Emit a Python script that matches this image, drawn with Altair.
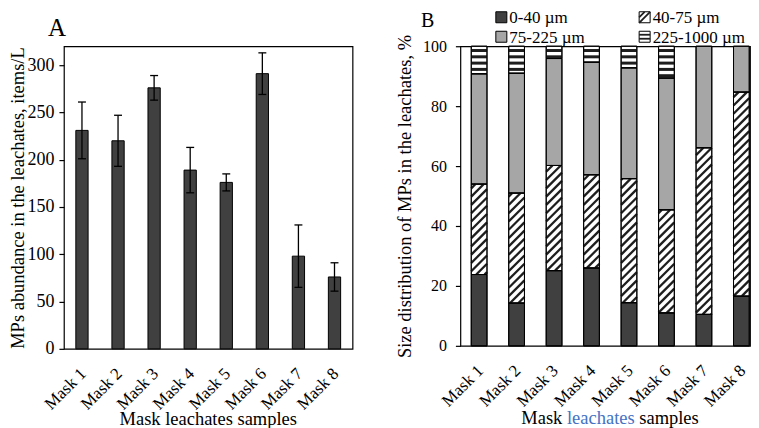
import altair as alt
import pandas as pd
import math

# ---------------- data ----------------
mask_no = [1, 2, 3, 4, 5, 6, 7, 8]
abundance = [231, 220, 276, 189, 176, 291, 98, 76]
abundance_err = [30, 27, 13, 24, 9, 22, 33, 15]

size_classes = ["0-40 µm", "40-75 µm", "75-225 µm", "225-1000 µm"]
pct_0_40 = [23.8, 14.3, 25.1, 26.0, 14.4, 11.0, 10.5, 16.6]
pct_40_75 = [30.2, 36.7, 35.1, 31.1, 41.4, 34.4, 55.6, 68.1]
pct_75_225 = [36.8, 40.0, 35.7, 37.6, 37.0, 44.0, 33.9, 15.3]
pct_225_1000 = [9.2, 9.0, 4.1, 5.3, 7.2, 10.6, 0.0, 0.0]

y_ticks_a = [0, 50, 100, 150, 200, 250, 300]
y_ticks_b = [0, 20, 40, 60, 80, 100]

# ---------------- style ----------------
FONT = "Liberation Serif"
DARK = "#404040"
GRAY = "#a6a6a6"
INK = "#1e1e1e"
BLUE = "#4472C4"

W1, H1 = 289, 303
W2, H2 = 290, 300
XD1 = [0.5, 8.5]
XD2 = [0.5, 8.23]
YD1 = [0, 320]
YD2 = [0, 100]
HW1 = 0.17
HW2 = 0.21

X_AXIS = alt.Axis(values=mask_no, labelExpr="'Mask ' + datum.value",
                  labelAngle=315, labelAlign="right", labelBaseline="middle",
                  labelFontSize=17, labelPadding=22, labelOffset=1, labelOverlap=False,
                  ticks=False, domain=False, grid=False, title=None)
Y_AXIS_A = alt.Axis(values=y_ticks_a, title="MPs abundance in the leachates, items/L",
                    labelFontSize=18, tickSize=5, labelPadding=5, titlePadding=-1,
                    domain=False, grid=False)
Y_AXIS_B = alt.Axis(values=y_ticks_b, title="Size distribution of MPs in the leachates, %",
                    labelFontSize=16, tickSize=5, labelPadding=9, titlePadding=8,
                    domain=False, grid=False)

# ---------------- panel A ----------------
dfa = pd.DataFrame({"n": mask_no, "v": abundance, "e": abundance_err})
dfa["zero"] = 0
dfa["xl"] = dfa["n"] - HW1
dfa["xr"] = dfa["n"] + HW1
dfa["lo"] = dfa["v"] - dfa["e"]
dfa["hi"] = dfa["v"] + dfa["e"]
dfa["cl"] = dfa["n"] - 0.11
dfa["cr"] = dfa["n"] + 0.11

sx1 = alt.Scale(domain=XD1, nice=False, zero=False)
sy1 = alt.Scale(domain=YD1, nice=False)

bars_a = alt.Chart(dfa).mark_bar(fill=DARK, stroke="black", strokeWidth=1).encode(
    x=alt.X("xl:Q", scale=sx1, axis=X_AXIS), x2="xr",
    y=alt.Y("v:Q", scale=sy1, axis=Y_AXIS_A), y2="zero",
)
err_a = alt.Chart(dfa).mark_rule(color="black", strokeWidth=1.3).encode(
    x=alt.X("n:Q", scale=sx1, axis=X_AXIS),
    y=alt.Y("lo:Q", scale=sy1, axis=Y_AXIS_A), y2="hi",
)
cap_hi = alt.Chart(dfa).mark_rule(color="black", strokeWidth=1.3).encode(
    x=alt.X("cl:Q", scale=sx1, axis=X_AXIS), x2="cr",
    y=alt.Y("hi:Q", scale=sy1, axis=Y_AXIS_A),
)
cap_lo = alt.Chart(dfa).mark_rule(color="black", strokeWidth=1.3).encode(
    x=alt.X("cl:Q", scale=sx1, axis=X_AXIS), x2="cr",
    y=alt.Y("lo:Q", scale=sy1, axis=Y_AXIS_A),
)
lab_a = alt.Chart(pd.DataFrame({"t": ["A"]})).mark_text(
    font=FONT, fontSize=25, align="left", baseline="alphabetic", color="black"
).encode(x=alt.value(-16), y=alt.value(-10), text="t:N")
xt_a = alt.Chart(pd.DataFrame({"t": ["Mask leachates samples"]})).mark_text(
    font=FONT, fontSize=18.5, align="center", baseline="alphabetic", color="black"
).encode(x=alt.value(W1 / 2), y=alt.value(H1 + 76), text="t:N")

panel_a = alt.layer(bars_a, err_a, cap_hi, cap_lo, lab_a, xt_a).properties(width=W1, height=H1)

# ---------------- panel B ----------------
rows = []
for n, a, b, c, d in zip(mask_no, pct_0_40, pct_40_75, pct_75_225, pct_225_1000):
    edges = [0, a, a + b, a + b + c, a + b + c + d]
    for j, cls in enumerate(size_classes):
        if edges[j + 1] - edges[j] > 0:
            rows.append({"n": n, "cls": cls, "lo": edges[j], "hi": edges[j + 1]})
dfb = pd.DataFrame(rows)
dfb["xl"] = dfb["n"] - HW2
dfb["xr"] = dfb["n"] + HW2

pxx = W2 / (XD2[1] - XD2[0])
pxy = H2 / (YD2[1] - YD2[0])

# hatching derived from the segments
hlines, dlines = [], []
for _, r in dfb.iterrows():
    if r["cls"] == size_classes[3]:
        k = 0
        while True:
            yv = r["hi"] - (4.3 + 6.3 * k) / pxy
            if yv <= r["lo"] + 1.2 / pxy:
                break
            hlines.append({"xl": r["xl"], "xr": r["xr"], "y": yv})
            k += 1
    if r["cls"] == size_classes[1]:
        d = 2 * HW2 * pxx / pxy
        s = 8.3 / pxy
        v = math.floor((r["lo"] - d) / s) * s
        while v < r["hi"]:
            t0 = max(0.0, (r["lo"] - v) / d)
            t1 = min(1.0, (r["hi"] - v) / d)
            if t1 - t0 > 0.02:
                dlines.append({"xl": r["xl"] + 2 * HW2 * t0, "xr": r["xl"] + 2 * HW2 * t1,
                               "lo": v + d * t0, "hi": v + d * t1})
            v += s
dfh = pd.DataFrame(hlines)
dfd = pd.DataFrame(dlines)

sx2 = alt.Scale(domain=XD2, nice=False, zero=False)
sy2 = alt.Scale(domain=YD2, nice=False)

seg = alt.Chart(dfb).mark_bar(stroke="black", strokeWidth=1).encode(
    x=alt.X("xl:Q", scale=sx2, axis=X_AXIS), x2="xr",
    y=alt.Y("lo:Q", scale=sy2, axis=Y_AXIS_B), y2="hi",
    fill=alt.Fill("cls:N", scale=alt.Scale(domain=size_classes,
                                            range=[DARK, "white", GRAY, "white"]), legend=None),
)
hatch_h = alt.Chart(dfh).mark_rule(color=INK, strokeWidth=3).encode(
    x=alt.X("xl:Q", scale=sx2, axis=X_AXIS), x2="xr",
    y=alt.Y("y:Q", scale=sy2, axis=Y_AXIS_B),
)
hatch_d = alt.Chart(dfd).mark_rule(color=INK, strokeWidth=2.3).encode(
    x=alt.X("xl:Q", scale=sx2, axis=X_AXIS), x2="xr",
    y=alt.Y("lo:Q", scale=sy2, axis=Y_AXIS_B), y2="hi",
)
outline = alt.Chart(dfb).mark_bar(fillOpacity=0, stroke="black", strokeWidth=1).encode(
    x=alt.X("xl:Q", scale=sx2, axis=X_AXIS), x2="xr",
    y=alt.Y("lo:Q", scale=sy2, axis=Y_AXIS_B), y2="hi",
)

# legend (drawn by hand, pixel layout)
leg = pd.DataFrame({
    "label": size_classes,
    "cx": [41, 184.5, 41, 184.5],
    "cy": [-29, -29, -9.5, -9.5],
    "fill": [DARK, "white", GRAY, "white"],
})
leg["x0"] = leg["cx"] - 5.5
leg["x1"] = leg["cx"] + 5.5
leg["y0"] = leg["cy"] - 5.5
leg["y1"] = leg["cy"] + 5.5
leg["tx"] = leg["cx"] + 8
leg["ty"] = leg["cy"] + 6

leg_box = alt.Chart(leg).mark_rect(stroke="black", strokeWidth=1).encode(
    x=alt.X("x0:Q", scale=None), x2="x1",
    y=alt.Y("y0:Q", scale=None), y2="y1",
    fill=alt.Fill("fill:N", scale=None),
)
leg_txt = alt.Chart(leg).mark_text(font=FONT, fontSize=17, align="left",
                                   baseline="alphabetic", color="black").encode(
    x=alt.X("tx:Q", scale=None), y=alt.Y("ty:Q", scale=None), text="label:N")

r40 = leg.iloc[1]
r225 = leg.iloc[3]
leg_marks = pd.DataFrame({
    "x": [r40["x0"], r40["x0"], r225["x0"], r225["x0"]],
    "x2": [r40["x1"], r40["cx"], r225["x1"], r225["x1"]],
    "y": [r40["y1"], r40["cy"], r225["cy"] - 2, r225["cy"] + 2],
    "y2": [r40["y0"], r40["y0"], r225["cy"] - 2, r225["cy"] + 2],
})
leg_hatch = alt.Chart(leg_marks).mark_rule(color=INK, strokeWidth=1.8).encode(
    x=alt.X("x:Q", scale=None), x2="x2",
    y=alt.Y("y:Q", scale=None), y2="y2",
)

lab_b = alt.Chart(pd.DataFrame({"t": ["B"]})).mark_text(
    font=FONT, fontSize=20, align="left", baseline="alphabetic", color="black"
).encode(x=alt.value(-39.5), y=alt.value(-19), text="t:N")

xt_parts = pd.DataFrame({
    "t": ["Mask", "leachates", "samples"],
    "px": [140.6 - 38.5, 140.6, 140.6 + 38.5],
})
xt_b1 = alt.Chart(xt_parts.iloc[[0]]).mark_text(
    font=FONT, fontSize=18.5, align="right", baseline="alphabetic", color="black"
).encode(x=alt.X("px:Q", scale=None), y=alt.value(H2 + 78), text="t:N")
xt_b2 = alt.Chart(xt_parts.iloc[[1]]).mark_text(
    font=FONT, fontSize=18.5, align="center", baseline="alphabetic", color=BLUE
).encode(x=alt.X("px:Q", scale=None), y=alt.value(H2 + 78), text="t:N")
xt_b3 = alt.Chart(xt_parts.iloc[[2]]).mark_text(
    font=FONT, fontSize=18.5, align="left", baseline="alphabetic", color="black"
).encode(x=alt.X("px:Q", scale=None), y=alt.value(H2 + 78), text="t:N")

panel_b = alt.layer(seg, hatch_h, hatch_d, outline, leg_box, leg_hatch, leg_txt,
                    lab_b, xt_b1, xt_b2, xt_b3).properties(width=W2, height=H2)

chart = alt.hconcat(panel_a, panel_b, spacing=41).properties(padding=0).configure_view(
    stroke="black", strokeWidth=1.2
).configure_axis(
    labelFont=FONT, titleFont=FONT, labelColor="black", titleColor="black",
    tickColor="black", tickWidth=1.2, titleFontSize=18.5, titleFontWeight="normal",
).configure_text(font=FONT)

chart.save("out.html", embed_options={"renderer": "svg", "actions": False})
